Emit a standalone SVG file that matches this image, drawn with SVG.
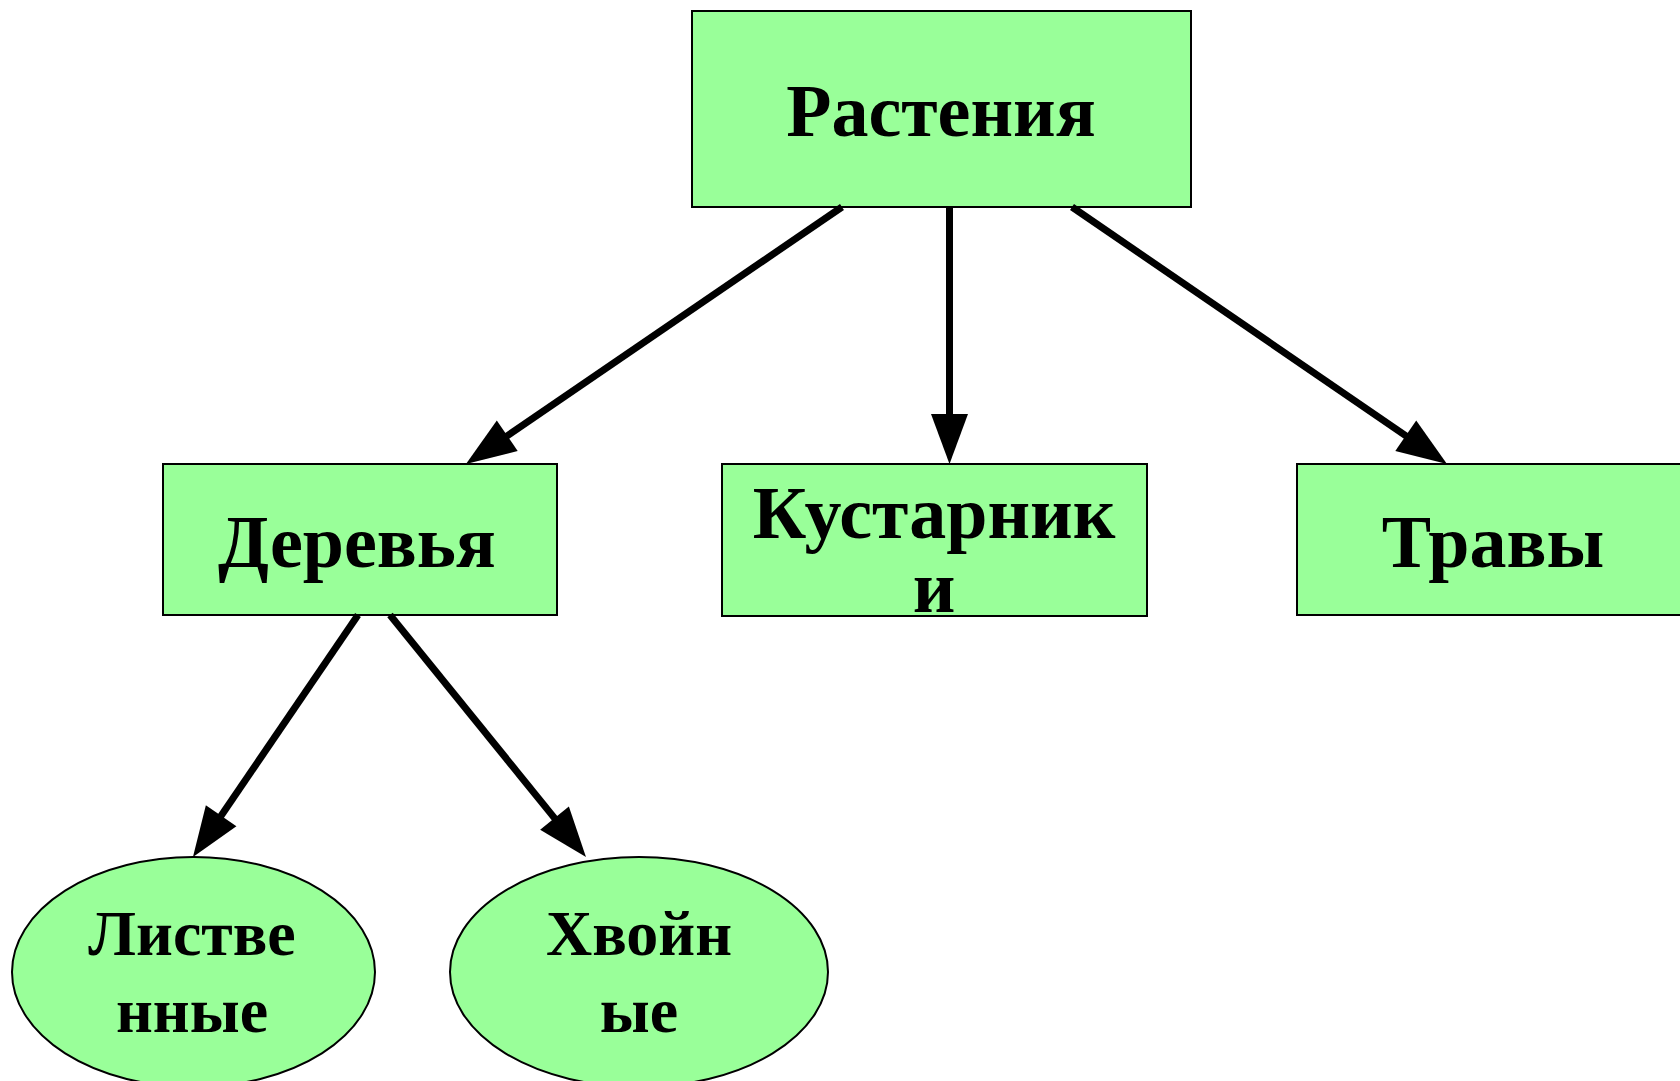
<svg xmlns="http://www.w3.org/2000/svg" width="1680" height="1081" viewBox="0 0 1680 1081">
<style>
.box{fill:#99FF99;stroke:#000;stroke-width:2}
.t{font-family:"Liberation Serif","Times New Roman",serif;font-weight:bold;fill:#000;text-anchor:middle}
.big{font-size:74px}
.sm{font-size:64px}
.arr{stroke:#000;stroke-width:7;fill:none;marker-end:url(#ah)}
</style>
<defs>
<marker id="ah" markerUnits="userSpaceOnUse" markerWidth="50" markerHeight="38" refX="10" refY="18.5" orient="auto" overflow="visible">
<path d="M0,0 L50,18.5 L0,37 z" fill="#000"/>
</marker>
</defs>
<rect width="1680" height="1081" fill="#fff"/>
<g id="node-rasteniya">
<rect class="box" x="692" y="11" width="499" height="196"/>
<text class="t big" x="941" y="136">Растения</text>
</g>
<g id="node-derevya">
<rect class="box" x="163" y="464" width="394" height="151"/>
<text class="t big" x="357" y="567">Деревья</text>
</g>
<g id="node-kustarniki">
<rect class="box" x="722" y="464" width="425" height="152"/>
<text class="t big" x="934" y="538">Кустарник</text>
<text class="t big" x="934" y="612">и</text>
</g>
<g id="node-travy">
<rect class="box" x="1297" y="464" width="400" height="151"/>
<text class="t big" x="1493" y="567">Травы</text>
</g>
<g id="node-listvennye">
<ellipse class="box" cx="193.5" cy="972" rx="181.5" ry="115"/>
<text class="t sm" x="192" y="955">Листве</text>
<text class="t sm" x="192" y="1032">нные</text>
</g>
<g id="node-hvoynye">
<ellipse class="box" cx="639" cy="972" rx="189" ry="115"/>
<text class="t sm" x="639" y="955">Хвойн</text>
<text class="t sm" x="639" y="1032">ые</text>
</g>
<g id="connectors">
<line class="arr" x1="842" y1="207" x2="499" y2="441.4"/>
<line class="arr" x1="949.5" y1="207" x2="949.5" y2="424"/>
<line class="arr" x1="1072" y1="207" x2="1414" y2="441.4"/>
<line class="arr" x1="358" y1="615" x2="215.5" y2="824"/>
<line class="arr" x1="390" y1="615" x2="560.8" y2="825.9"/>
</g>
</svg>
